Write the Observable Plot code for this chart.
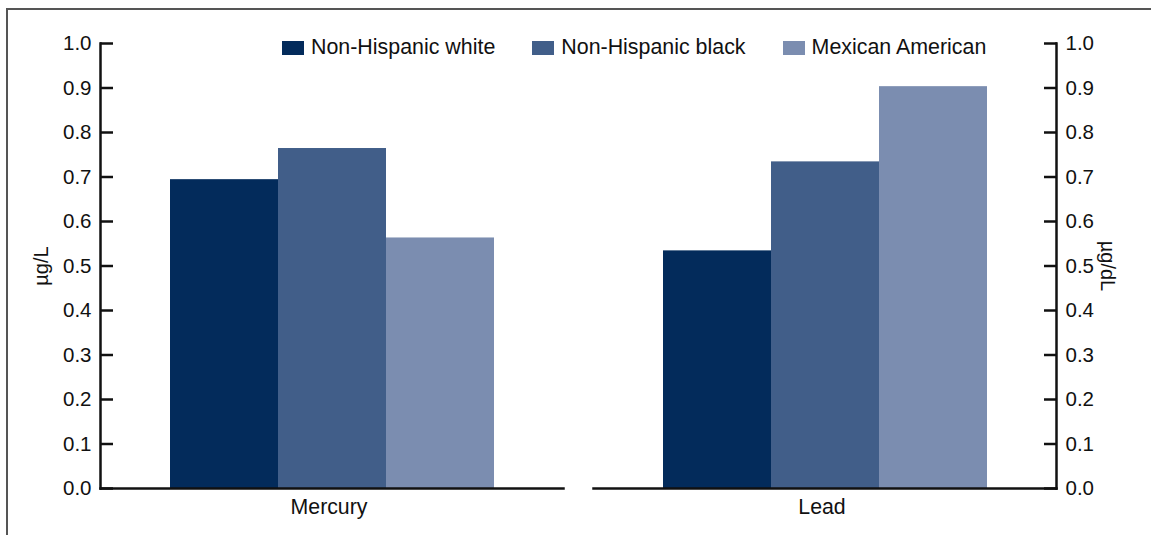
<!DOCTYPE html>
<html>
<head>
<meta charset="utf-8">
<script src="https://cdn.jsdelivr.net/npm/d3@7"></script>
<script src="https://cdn.jsdelivr.net/npm/@observablehq/plot@0.6"></script>
<style>
  html, body { margin: 0; padding: 0; background: #fff; }
  #wrap { position: relative; width: 1151px; height: 535px; overflow: hidden; font-family: "Liberation Sans", Arial, sans-serif; }
  #border { position: absolute; left: 6px; top: 8px; width: 2000px; height: 2000px; border-left: 2px solid #555; border-top: 2px solid #555; pointer-events: none; }
  #legend { position: absolute; left: 282px; top: 35px; display: flex; align-items: center; font-size: 21.4px; color: #111; white-space: nowrap; }
  #legend .item { display: flex; align-items: center; margin-right: 37px; }
  #legend .sw { width: 22px; height: 14px; margin-right: 7px; }
  svg { position: absolute; left: 0; top: 0; }
</style>
</head>
<body>
<div id="wrap"><div id="border"></div></div>
<script>
const groups = ["Non-Hispanic white", "Non-Hispanic black", "Mexican American"];
const metals = ["Mercury", "Lead"];
const mercury = [0.694, 0.764, 0.563];
const lead = [0.534, 0.734, 0.903];
const colors = ["#032b5b", "#415e89", "#7b8db0"];
const yTicks = [0, 0.1, 0.2, 0.3, 0.4, 0.5, 0.6, 0.7, 0.8, 0.9, 1.0];
const yUnits = ["µg/L", "µg/dL"];

const series = [mercury, lead];
const data = metals.flatMap((m, i) => groups.map((g, j) => ({metal: m, group: g, value: series[i][j]})));

const axisStyle = {stroke: "#111", strokeWidth: 2.5};

const chart = Plot.plot({
  width: 1151,
  height: 535,
  marginLeft: 100,
  marginRight: 94,
  marginTop: 43,
  marginBottom: 47,
  style: {fontFamily: "'Liberation Sans', Arial, sans-serif", fontSize: "20px", color: "#111", background: "transparent"},
  fx: {domain: metals, paddingInner: 0.0608, paddingOuter: 0, label: null},
  x: {domain: groups, paddingInner: 0, paddingOuter: 0.64, axis: null},
  y: {domain: [0, 1], axis: null},
  color: {domain: groups, range: colors},
  marks: [
    Plot.barY(data, {fx: "metal", x: "group", y: "value", fill: "group"}),
    Plot.frame({anchor: "bottom", ...axisStyle}),
    Plot.frame({anchor: "left", facetAnchor: "left", ...axisStyle}),
    Plot.frame({anchor: "right", facetAnchor: "right", ...axisStyle}),
    Plot.axisY(yTicks, {anchor: "left", tickSize: -13, tickPadding: 22, tickFormat: d3.format(".1f"), label: null, strokeWidth: 2.5, fontSize: 20.5}),
    Plot.axisY(yTicks, {anchor: "right", tickSize: -13, tickPadding: 22, tickFormat: d3.format(".1f"), label: null, strokeWidth: 2.5, fontSize: 20.5}),
    Plot.axisFx({anchor: "bottom", tickSize: 0, tickPadding: 10, label: null, fontSize: 21.3, dx: -3}),
    Plot.text([{metal: metals[0], t: yUnits[0]}], {fx: "metal", text: "t", frameAnchor: "left", rotate: -90, dx: -59, textAnchor: "middle", lineAnchor: "middle", fontSize: 20}),
    Plot.text([{metal: metals[1], t: yUnits[1]}], {fx: "metal", text: "t", frameAnchor: "right", rotate: 90, dx: 51, textAnchor: "middle", lineAnchor: "middle", fontSize: 20})
  ]
});

const wrap = document.getElementById("wrap");
wrap.insertBefore(chart, wrap.firstChild);

const legend = document.createElement("div");
legend.id = "legend";
groups.forEach((g, i) => {
  const item = document.createElement("div");
  item.className = "item";
  const sw = document.createElement("span");
  sw.className = "sw";
  sw.style.background = colors[i];
  const label = document.createElement("span");
  label.textContent = g;
  item.appendChild(sw);
  item.appendChild(label);
  legend.appendChild(item);
});
wrap.appendChild(legend);
</script>
</body>
</html>
